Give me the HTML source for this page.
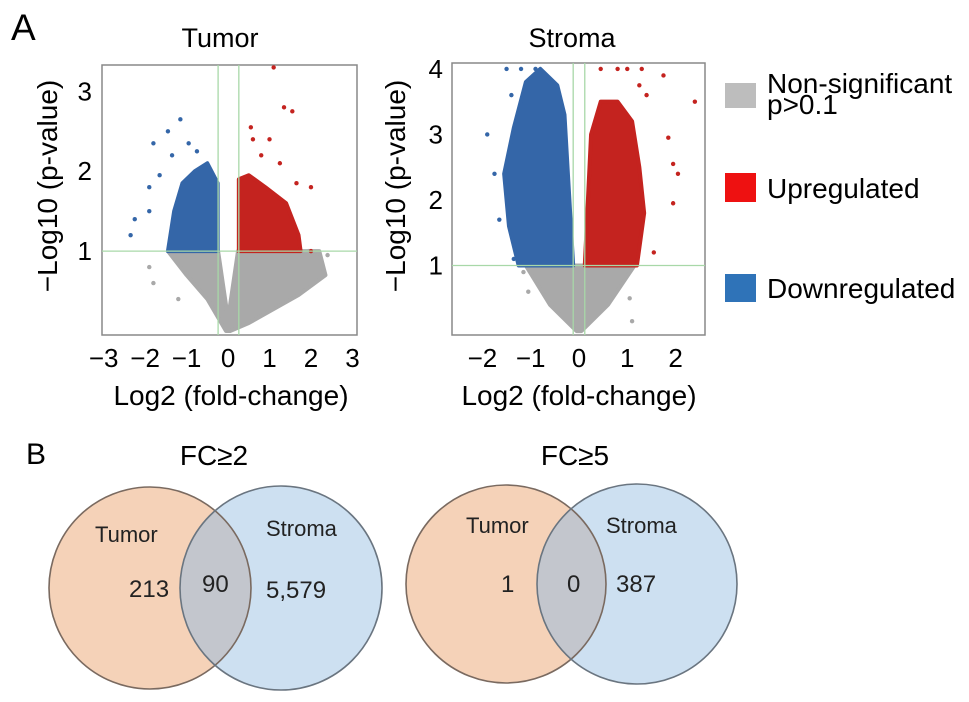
<!DOCTYPE html>
<html><head><meta charset="utf-8"><style>
html,body{margin:0;padding:0;background:#fff;}
svg{display:block;font-family:"Liberation Sans",sans-serif;}
</style></head><body>
<svg id="fig" width="969" height="702" viewBox="0 0 969 702">
<text x="11" y="40" font-size="37">A</text>
<text x="26" y="464" font-size="30">B</text>
<text x="220" y="47" font-size="27" text-anchor="middle">Tumor</text>
<text x="572" y="47" font-size="27" text-anchor="middle">Stroma</text>
<g id="tumor"></g>
<g id="stroma"></g>
<text transform="translate(57,186) rotate(-90)" font-size="28" text-anchor="middle">−Log10 (p-value)</text>
<text transform="translate(405,186) rotate(-90)" font-size="28" text-anchor="middle">−Log10 (p-value)</text>
<text x="231" y="405" font-size="28" text-anchor="middle">Log2 (fold-change)</text>
<text x="579" y="405" font-size="28" text-anchor="middle">Log2 (fold-change)</text>
<g>
<rect x="725" y="83" width="31" height="25" fill="#bdbdbd"/>
<text x="767" y="93" font-size="28">Non-significant</text>
<text x="767" y="114" font-size="28">p&gt;0.1</text>
<rect x="725" y="173" width="31" height="29" fill="#ee1111"/>
<text x="767" y="198" font-size="28">Upregulated</text>
<rect x="725" y="274" width="31" height="28" fill="#2f73b8"/>
<text x="767" y="298" font-size="28">Downregulated</text>
</g>
<g>
<text x="214" y="465" font-size="28" text-anchor="middle">FC≥2</text>
<clipPath id="c1"><ellipse cx="150" cy="588" rx="101" ry="101"/></clipPath>
<ellipse cx="150" cy="588" rx="101" ry="101" fill="#f5d2b8"/>
<ellipse cx="281" cy="588" rx="101" ry="102" fill="#cde0f1"/>
<ellipse cx="281" cy="588" rx="101" ry="102" fill="#c3c6cd" clip-path="url(#c1)"/>
<ellipse cx="150" cy="588" rx="101" ry="101" fill="none" stroke="#7a6a60" stroke-width="1.6"/>
<ellipse cx="281" cy="588" rx="101" ry="102" fill="none" stroke="#6a7580" stroke-width="1.6"/>
<text x="95" y="542" font-size="22" fill="#222">Tumor</text>
<text x="266" y="536" font-size="22" fill="#222">Stroma</text>
<text x="129" y="597" font-size="24" fill="#222">213</text>
<text x="202" y="592" font-size="24" fill="#222">90</text>
<text x="266" y="598" font-size="24" fill="#222">5,579</text>
</g>
<g>
<text x="575" y="465" font-size="28" text-anchor="middle">FC≥5</text>
<clipPath id="c2"><ellipse cx="506" cy="584" rx="100" ry="99"/></clipPath>
<ellipse cx="506" cy="584" rx="100" ry="99" fill="#f5d2b8"/>
<ellipse cx="637" cy="584" rx="100" ry="100" fill="#cde0f1"/>
<ellipse cx="637" cy="584" rx="100" ry="100" fill="#c3c6cd" clip-path="url(#c2)"/>
<ellipse cx="506" cy="584" rx="100" ry="99" fill="none" stroke="#7a6a60" stroke-width="1.6"/>
<ellipse cx="637" cy="584" rx="100" ry="100" fill="none" stroke="#6a7580" stroke-width="1.6"/>
<text x="466" y="533" font-size="22" fill="#222">Tumor</text>
<text x="606" y="533" font-size="22" fill="#222">Stroma</text>
<text x="501" y="592" font-size="24" fill="#222">1</text>
<text x="567" y="592" font-size="24" fill="#222">0</text>
<text x="616" y="592" font-size="24" fill="#222">387</text>
</g>
</svg>
<script>
// Tumor volcano data (log2FC, -log10 p)
const tumorXTicks = [-3,-2,-1,0,1,2,3];
const tumorYTicks = [1,2,3];
const tumorGray = [[-0.05,0],[-0.5,0.4],[-1.0,0.7],[-1.45,1.0],[-0.24,1.0],[0,0.15],[0.24,1.0],[2.2,1.0],[2.35,0.7],[1.7,0.45],[0.5,0.1],[0.05,0]];
const tumorBlue = [[-0.25,1],[-0.25,1.85],[-0.5,2.1],[-0.8,2.0],[-1.1,1.85],[-1.3,1.5],[-1.45,1.0]];
const tumorRed = [[0.26,1],[0.26,1.9],[0.5,1.95],[0.9,1.8],[1.4,1.6],[1.7,1.2],[1.75,1.0]];
const tumorBlueOut = [[-1.15,2.65],[-1.45,2.5],[-1.8,2.35],[-0.95,2.35],[-1.9,1.8],[-2.25,1.4],[-2.35,1.2],[-1.9,1.5],[-0.75,2.25],[-1.35,2.2],[-1.65,1.95]];
const tumorRedOut = [[1.1,3.3],[1.35,2.8],[1.55,2.75],[0.55,2.55],[1.0,2.4],[0.6,2.4],[2.0,1.8],[1.65,1.85],[1.25,2.1],[0.8,2.2],[2.0,1.0]];
const tumorGrayOut = [[-1.9,0.8],[-1.8,0.6],[-1.2,0.4],[2.4,0.95],[2.3,0.75],[1.95,1.0]];
// Stroma volcano data
const stromaXTicks = [-2,-1,0,1,2];
const stromaYTicks = [1,2,3,4];
const stromaGray = [[-1.1,1],[-0.6,0.4],[-0.05,0],[0.05,0],[0.6,0.4],[1.15,1.0]];
const stromaBlue = [[-0.12,1],[-0.3,3.3],[-0.45,3.75],[-0.8,4.0],[-1.1,3.8],[-1.35,3.1],[-1.55,2.4],[-1.45,1.6],[-1.25,1.0]];
const stromaRed = [[0.12,1],[0.25,3.0],[0.45,3.5],[0.8,3.5],[1.1,3.2],[1.25,2.5],[1.35,1.8],[1.2,1.0]];
const stromaBlueOut = [[-1.9,3.0],[-1.75,2.4],[-1.5,4.0],[-1.2,4.0],[-0.9,4.0],[-1.4,3.6],[-1.35,1.1],[-1.65,1.7]];
const stromaRedOut = [[0.45,4.0],[0.8,4.0],[1.0,4.0],[1.3,4.0],[1.75,3.9],[2.4,3.5],[1.85,2.95],[1.95,2.55],[2.05,2.4],[1.95,1.95],[1.55,1.2],[1.4,3.6],[1.25,3.75]];
const stromaGrayOut = [[-1.15,0.9],[-1.05,0.6],[1.05,0.5],[1.1,0.15]];

const NS='http://www.w3.org/2000/svg';
function mk(tag,attrs,parent){const e=document.createElementNS(NS,tag);for(const k in attrs)e.setAttribute(k,attrs[k]);parent.appendChild(e);return e;}

function volcano(g,box,xDom,yDom,xt,yt,vx,gray,blue,red,bo,ro,go,tickOff){
  const sx=v=>box.x0+(v-xDom[0])/(xDom[1]-xDom[0])*(box.x1-box.x0);
  const sy=v=>box.y1-(v-yDom[0])/(yDom[1]-yDom[0])*(box.y1-box.y0);
  const frame=mk('rect',{x:box.x0,y:box.y0,width:box.x1-box.x0,height:box.y1-box.y0,fill:'#fff',stroke:'#888','stroke-width':1.5},g);
  
  
  const poly=(pts,col,name)=>{const p=mk('polygon',{points:pts.map(d=>sx(d[0])+','+sy(d[1])).join(' '),fill:col,stroke:col,'stroke-width':4,'stroke-linejoin':'round'},g);
    
    };
  poly(gray,'#a9a9a9','nonsig-cloud');
  poly(blue,'#3466a8','down-cloud');
  poly(red,'#c4231f','up-cloud');
  const dots=(arr,col,name)=>arr.forEach(d=>{const c=mk('circle',{cx:sx(d[0]),cy:sy(d[1]),r:2.2,fill:col},g);
    
    });
  dots(go,'#a9a9a9','nonsig-point');dots(bo,'#3466a8','down-point');dots(ro,'#c4231f','up-point');
  const gl={stroke:'#a8d8a8','stroke-width':1.3};
  vx.forEach(v=>{const l=mk('line',Object.assign({x1:sx(v),x2:sx(v),y1:box.y0,y2:box.y1},gl),g);
    
    });
  const h=mk('line',Object.assign({x1:box.x0,x2:box.x1,y1:sy(1),y2:sy(1)},gl),g);
  
  
  xt.forEach(v=>{const t=mk('text',{x:sx(v),y:367,'font-size':26,'text-anchor':'middle'},g);t.textContent=v<0?'−'+(-v):String(v);
    
    });
  yt.forEach(v=>{const t=mk('text',{x:box.x0-tickOff,y:sy(v)+9,'font-size':26,'text-anchor':'end'},g);t.textContent=String(v);
    
    });
}
volcano(document.getElementById('tumor'),{x0:102,x1:357,y0:65,y1:335},[-3.04,3.11],[-0.05,3.33],tumorXTicks,tumorYTicks,[-0.24,0.26],tumorGray,tumorBlue,tumorRed,tumorBlueOut,tumorRedOut,tumorGrayOut,10);
volcano(document.getElementById('stroma'),{x0:452,x1:705,y0:63,y1:335},[-2.63,2.61],[-0.06,4.09],stromaXTicks,stromaYTicks,[-0.12,0.12],stromaGray,stromaBlue,stromaRed,stromaBlueOut,stromaRedOut,stromaGrayOut,9);
</script>
</body></html>
